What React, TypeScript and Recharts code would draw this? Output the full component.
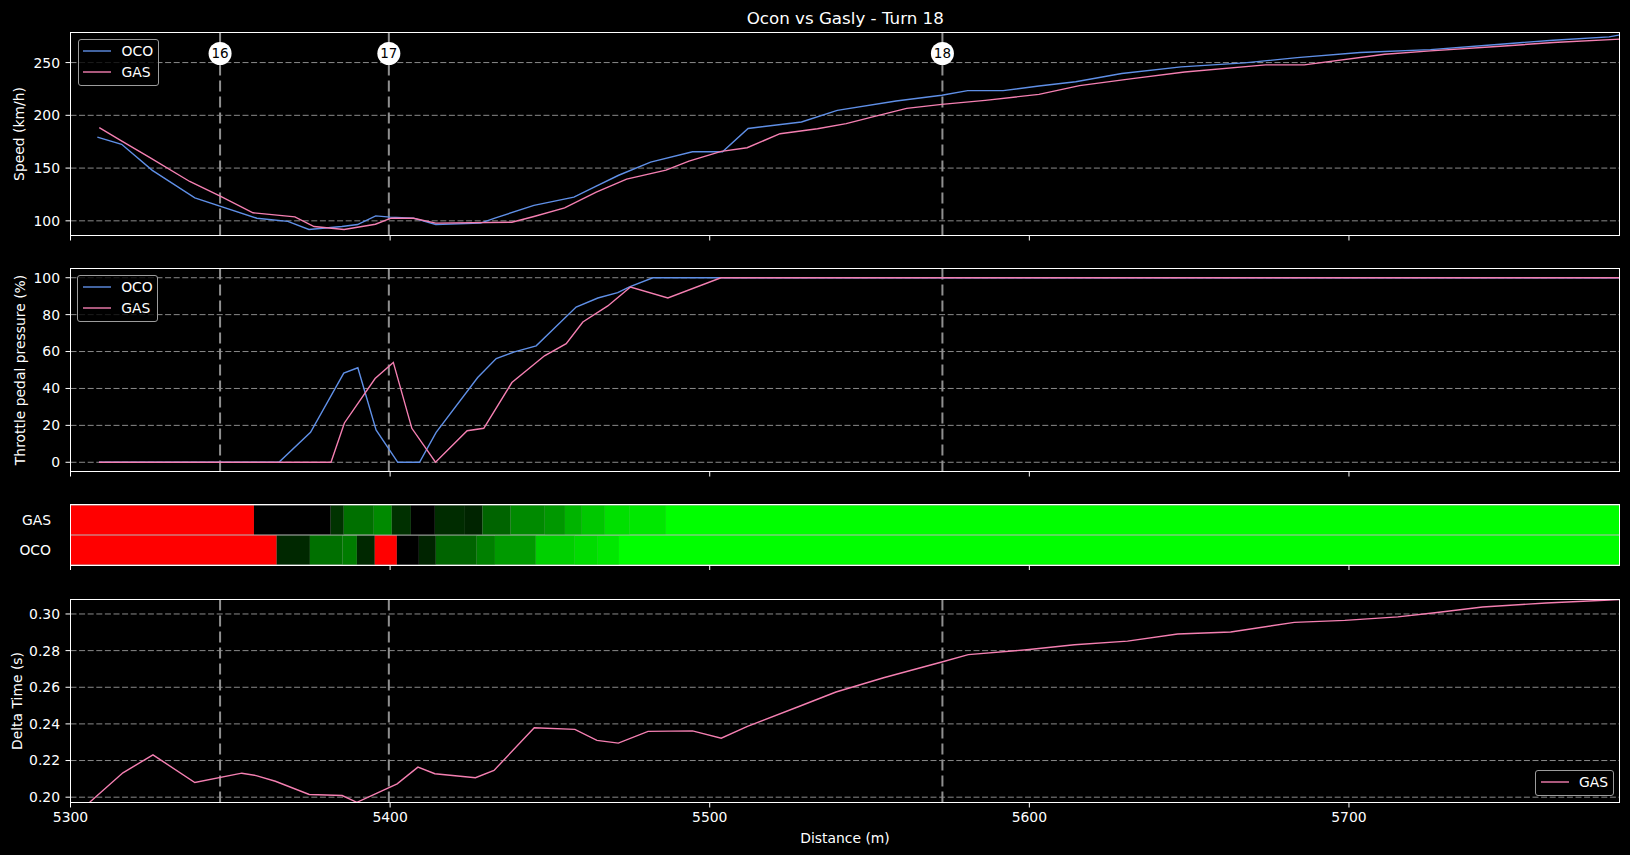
import React from "react";
import {
  LineChart,
  Line,
  BarChart,
  Bar,
  Cell,
  XAxis,
  YAxis,
  CartesianGrid,
  ReferenceLine,
  ReferenceDot,
  Legend,
} from "recharts";

const FONT = '"DejaVu Sans", sans-serif';
const OCO_COLOR = "#5f8fe6";
const GAS_COLOR = "#f47fb1";
const GRID = "#8a8a8a";
const TURN_LINE = "#8f8f8f";

// shared distance axis
const xDomain = [5300, 5784.8];
const xTicks = [5300, 5400, 5500, 5600, 5700];

// corner markers
const turnLabels = ["16", "17", "18"];
const turnDistances = [5346.8, 5399.6, 5572.8];
const turnLabelSpeed = 258.6;

// speed (km/h)
const ocoSpeedDistance = [
  5308.4, 5316.0, 5325.6, 5338.9, 5358.3, 5368.0, 5374.6, 5384.9, 5389.8, 5395.5,
  5400.0, 5407.3, 5414.3, 5428.3, 5433.0, 5445.0, 5457.5, 5464.5, 5471.5, 5481.5,
  5494.6, 5504.0, 5512.0, 5528.7, 5539.9, 5558.3, 5572.6, 5580.7, 5591.8, 5603.0,
  5614.5, 5628.9, 5647.5, 5667.3, 5683.8, 5703.5, 5725.5, 5747.4, 5763.9, 5781.4,
  5784.8,
];
const ocoSpeed = [
  179.4, 172.5, 147.8, 121.8, 102.5, 99.5, 91.8, 94.6, 96.5, 104.7,
  103.5, 102.5, 96.5, 97.8, 102.8, 114.6, 122.5, 132.9, 143.2, 155.7,
  165.5, 165.5, 187.5, 193.7, 204.7, 213.6, 219.0, 223.4, 223.4, 227.8,
  231.8, 239.6, 245.9, 249.7, 254.7, 259.5, 262.3, 267.4, 271.2, 274.4,
  276.3,
];
const gasSpeedDistance = [
  5309.0, 5316.2, 5324.6, 5337.3, 5347.0, 5357.1, 5370.2, 5376.2, 5385.6, 5395.4,
  5400.3, 5407.3, 5414.3, 5438.1, 5445.0, 5454.6, 5464.5, 5474.0, 5486.3, 5493.5,
  5503.6, 5511.7, 5522.0, 5533.7, 5542.7, 5551.6, 5561.6, 5572.6, 5586.2, 5603.0,
  5615.7, 5632.2, 5648.6, 5673.9, 5686.0, 5711.2, 5725.5, 5747.4, 5763.9, 5784.8,
];
const gasSpeed = [
  188.3, 175.3, 160.4, 137.3, 123.1, 107.6, 103.8, 94.6, 91.8, 96.8,
  102.5, 102.5, 97.8, 98.7, 104.1, 112.3, 127.2, 139.6, 148.1, 156.6,
  165.8, 169.3, 182.6, 187.3, 192.1, 199.0, 206.6, 210.4, 214.2, 219.9,
  228.2, 234.8, 241.1, 247.8, 247.8, 257.9, 261.1, 265.5, 269.0, 272.2,
];

// throttle (%)
const ocoThrottleDistance = [
  5308.9, 5365.2, 5375.1, 5385.5, 5389.9, 5395.6, 5402.4, 5409.2, 5414.4, 5427.4,
  5433.2, 5438.9, 5445.7, 5458.2, 5465.0, 5471.2, 5474.9, 5482.2, 5784.8,
];
const ocoThrottle = [
  0, 0, 16.2, 48.3, 51.2, 17.5, 0, 0, 16.2, 45.9,
  56.2, 59.8, 63.1, 84.1, 89.0, 91.9, 95.0, 100, 100,
];
const gasThrottleDistance = [
  5308.9, 5381.5, 5385.7, 5395.3, 5401.0, 5406.8, 5414.2, 5424.1, 5429.3, 5438.1,
  5448.3, 5455.1, 5460.3, 5468.1, 5475.2, 5486.9, 5503.5, 5784.8,
];
const gasThrottle = [
  0, 0, 21.3, 45.4, 54.1, 18.4, 0, 17.1, 18.4, 43.2,
  57.7, 64.3, 76.0, 84.7, 95.0, 89.0, 100, 100,
];

// throttle colour bands
const driverLabels = ["GAS", "OCO"];
const gasSegmentEnds = [
  5357.4, 5381.4, 5385.5, 5394.9, 5400.5, 5406.5, 5414.0, 5423.4, 5428.9,
  5437.7, 5448.4, 5454.7, 5460.0, 5467.2, 5475.0, 5486.3, 5784.8,
];
const gasSegmentColors = [
  "#ff0000", "#000000", "#003300", "#007000", "#008a00", "#003000", "#000000", "#002c00", "#002400",
  "#006400", "#008a00", "#009800", "#00b400", "#00c800", "#00e000", "#00e800", "#00ff00",
];
const ocoSegmentEnds = [
  5364.5, 5374.9, 5385.1, 5389.6, 5395.2, 5402.1, 5409.0, 5414.3, 5427.1,
  5432.8, 5445.6, 5457.8, 5465.0, 5471.6, 5784.8,
];
const ocoSegmentColors = [
  "#ff0000", "#002800", "#007000", "#007c00", "#002800", "#ff0000", "#000000", "#002400", "#006400",
  "#008000", "#009a00", "#00d000", "#00dc00", "#00e800", "#00ff00",
];

// delta time (s)
const deltaDistance = [
  5306.0, 5316.4, 5325.8, 5338.9, 5353.6, 5358.1, 5364.1, 5374.7, 5385.0, 5389.6,
  5402.2, 5408.7, 5414.0, 5426.7, 5432.5, 5445.1, 5457.8, 5464.7, 5471.4, 5480.7,
  5494.6, 5503.6, 5511.8, 5527.9, 5539.5, 5554.4, 5572.6, 5580.9, 5599.2, 5614.1,
  5630.7, 5646.4, 5663.0, 5682.9, 5698.7, 5715.3, 5726.9, 5741.8, 5761.7, 5784.8,
];
const gasDelta = [
  0.1972, 0.2133, 0.2231, 0.208, 0.2131, 0.2118, 0.2087, 0.2015, 0.2009, 0.1972,
  0.2073, 0.2164, 0.2128, 0.2106, 0.2146, 0.2379, 0.237, 0.231, 0.2295, 0.2359,
  0.2362, 0.2322, 0.2386, 0.2495, 0.2574, 0.2652, 0.2738, 0.2778, 0.2805, 0.2832,
  0.2852, 0.2891, 0.2902, 0.2954, 0.2965, 0.2984, 0.3007, 0.3038, 0.306, 0.3079,
];

const speedTicks = [100, 150, 200, 250];
const throttleTicks = [0, 20, 40, 60, 80, 100];
const deltaTicks = [0.2, 0.22, 0.24, 0.26, 0.28, 0.3];

const bothDrivers = [
  { name: "OCO", color: OCO_COLOR },
  { name: "GAS", color: GAS_COLOR },
];
const gasOnly = [{ name: "GAS", color: GAS_COLOR }];

const toPoints = (xs: number[], ys: number[]) => xs.map((d, i) => ({ d, v: ys[i] }));

// segment widths stacked from zero; the axis clips everything left of 5300
const segmentRow = (driver: string, ends: number[]) => {
  const row: Record<string, any> = { driver };
  ends.forEach((e, i) => {
    row[`s${i}`] = i === 0 ? e : e - ends[i - 1];
  });
  return row;
};
const bandData = [segmentRow("GAS", gasSegmentEnds), segmentRow("OCO", ocoSegmentEnds)];
const bandColors = [gasSegmentColors, ocoSegmentColors];
const segmentCount = Math.max(gasSegmentEnds.length, ocoSegmentEnds.length);

const W = 1630;
const AXIS_W = 55.5;
const MARGIN_LEFT = 15; // plot starts at x = 70.5
const MARGIN_RIGHT = 10;

const tickStyle = { fill: "#fff", fontSize: 13.9, fontFamily: FONT };

function VTitle({ px, py, text }: { px: number; py: number; text: string }) {
  return (
    <text
      x={px}
      y={py}
      transform={`rotate(-90 ${px} ${py})`}
      textAnchor="middle"
      dominantBaseline="central"
      fill="#fff"
      fontSize={13.9}
      fontFamily={FONT}
    >
      {text}
    </text>
  );
}

function HTitle({ px, py, text }: { px: number; py: number; text: string }) {
  return (
    <text x={px} y={py} textAnchor="middle" fill="#fff" fontSize={13.9} fontFamily={FONT}>
      {text}
    </text>
  );
}

function LegendBox({ items, width, height }: { items: { name: string; color: string }[]; width: number; height: number }) {
  return (
    <div
      style={{
        width,
        height,
        boxSizing: "border-box",
        border: "1px solid #9c9c9c",
        borderRadius: 3,
        background: "rgba(0,0,0,0.8)",
        paddingTop: 0.5,
      }}
    >
      {items.map((p) => (
        <div key={p.name} style={{ display: "flex", alignItems: "center", height: 21.3 }}>
          <svg width={28} height={6} style={{ marginLeft: 4.5, marginRight: 10.5, display: "block" }}>
            <line x1={0} y1={3} x2={28} y2={3} stroke={p.color} strokeWidth={1.4} />
          </svg>
          <span style={{ color: "#fff", fontSize: 13.9, fontFamily: FONT, lineHeight: "16px" }}>
            {p.name}
          </span>
        </div>
      ))}
    </div>
  );
}

function Frame({ top, height }: { top: number; height: number }) {
  return (
    <div
      style={{
        position: "absolute",
        left: 70,
        top,
        width: 1550,
        height,
        boxSizing: "border-box",
        border: "1px solid #fff",
        pointerEvents: "none",
      }}
    />
  );
}

function DistanceAxis({ height, labels, title }: { height: number; labels: boolean; title?: React.ReactElement }) {
  return (
    <XAxis
      dataKey="d"
      type="number"
      domain={xDomain}
      allowDataOverflow
      ticks={xTicks}
      height={height}
      axisLine={false}
      tickLine={{ stroke: "#fff" }}
      tickSize={5}
      tickMargin={5}
      tick={tickStyle}
      tickFormatter={(v: number) => (labels ? String(v) : "")}
      label={title}
    />
  );
}

function TurnLines() {
  return (
    <>
      {turnDistances.map((d) => (
        <ReferenceLine key={d} x={d} stroke={TURN_LINE} strokeWidth={2} strokeDasharray="11 5" />
      ))}
    </>
  );
}

export default function App() {
  const ocoSpeedData = toPoints(ocoSpeedDistance, ocoSpeed);
  const gasSpeedData = toPoints(gasSpeedDistance, gasSpeed);
  const ocoThrottleData = toPoints(ocoThrottleDistance, ocoThrottle);
  const gasThrottleData = toPoints(gasThrottleDistance, gasThrottle);
  const deltaData = toPoints(deltaDistance, gasDelta);

  return (
    <div
      style={{
        position: "absolute",
        left: 0,
        top: 0,
        width: W,
        height: 855,
        background: "#000",
        overflow: "hidden",
        fontFamily: FONT,
      }}
    >
      <div
        style={{
          position: "absolute",
          left: 70.5,
          top: 7.5,
          width: 1549.5,
          textAlign: "center",
          color: "#fff",
          fontSize: 16.7,
          lineHeight: "20px",
        }}
      >
        Ocon vs Gasly - Turn 18
      </div>

      {/* speed */}
      <div style={{ position: "absolute", left: 0, top: 0 }}>
        <LineChart width={W} height={250} margin={{ top: 32.5, right: MARGIN_RIGHT, bottom: 0, left: MARGIN_LEFT }}>
          <CartesianGrid vertical={false} stroke={GRID} strokeDasharray="6 2.6" />
          <DistanceAxis height={14.5} labels={false} />
          <YAxis
            type="number"
            domain={[86.1, 278.5]}
            allowDataOverflow
            ticks={speedTicks}
            width={AXIS_W}
            axisLine={false}
            tickLine={{ stroke: "#fff" }}
            tickSize={5}
            tickMargin={5.5}
            tick={tickStyle}
            label={<VTitle px={19.3} py={134} text="Speed (km/h)" />}
          />
          <TurnLines />
          <Line data={ocoSpeedData} dataKey="v" name="OCO" stroke={OCO_COLOR} strokeWidth={1.4} dot={false} isAnimationActive={false} />
          <Line data={gasSpeedData} dataKey="v" name="GAS" stroke={GAS_COLOR} strokeWidth={1.4} dot={false} isAnimationActive={false} />
          {turnDistances.map((d, i) => (
            <ReferenceDot
              key={d}
              x={d}
              y={turnLabelSpeed}
              r={11.5}
              fill="#fff"
              stroke="none"
              label={{ value: turnLabels[i], position: "center", fill: "#000", fontSize: 13.5, fontFamily: FONT }}
            />
          ))}
          <Legend
            layout="vertical"
            align="center"
            verticalAlign="middle"
            wrapperStyle={{ left: 77.5, top: 39 }}
            content={() => <LegendBox items={bothDrivers} width={81} height={47} />}
          />
        </LineChart>
      </div>

      {/* throttle */}
      <div style={{ position: "absolute", left: 0, top: 250 }}>
        <LineChart width={W} height={240} margin={{ top: 18.5, right: MARGIN_RIGHT, bottom: 0, left: MARGIN_LEFT }}>
          <CartesianGrid vertical={false} stroke={GRID} strokeDasharray="6 2.6" />
          <DistanceAxis height={18.5} labels={false} />
          <YAxis
            type="number"
            domain={[-5, 105]}
            allowDataOverflow
            ticks={throttleTicks}
            width={AXIS_W}
            axisLine={false}
            tickLine={{ stroke: "#fff" }}
            tickSize={5}
            tickMargin={5.5}
            tick={tickStyle}
            label={<VTitle px={20} py={120} text="Throttle pedal pressure (%)" />}
          />
          <TurnLines />
          <Line data={ocoThrottleData} dataKey="v" name="OCO" stroke={OCO_COLOR} strokeWidth={1.4} dot={false} isAnimationActive={false} />
          <Line data={gasThrottleData} dataKey="v" name="GAS" stroke={GAS_COLOR} strokeWidth={1.4} dot={false} isAnimationActive={false} />
          <Legend
            layout="vertical"
            align="center"
            verticalAlign="middle"
            wrapperStyle={{ left: 77.2, top: 25 }}
            content={() => <LegendBox items={bothDrivers} width={81} height={47} />}
          />
        </LineChart>
      </div>

      {/* throttle bands */}
      <div style={{ position: "absolute", left: 0, top: 490 }}>
        <BarChart
          width={W}
          height={95}
          layout="vertical"
          data={bandData}
          barCategoryGap={0.6}
          margin={{ top: 15, right: MARGIN_RIGHT, bottom: 0, left: MARGIN_LEFT }}
        >
          <CartesianGrid horizontal={false} vertical={false} fill="#b8b8b8" />
          <DistanceAxis height={20} labels={false} />
          <YAxis
            type="category"
            dataKey="driver"
            ticks={driverLabels}
            width={AXIS_W}
            axisLine={false}
            tickLine={false}
            tickSize={0}
            tickMargin={19.5}
            tick={tickStyle}
          />
          {Array.from({ length: segmentCount }, (_, i) => (
            <Bar key={i} dataKey={`s${i}`} stackId="band" isAnimationActive={false}>
              {bandData.map((row, r) => (
                <Cell key={row.driver} fill={bandColors[r][i] || "#00ff00"} />
              ))}
            </Bar>
          ))}
        </BarChart>
      </div>

      {/* delta time */}
      <div style={{ position: "absolute", left: 0, top: 585 }}>
        <LineChart width={W} height={270} margin={{ top: 14.5, right: MARGIN_RIGHT, bottom: 0, left: MARGIN_LEFT }}>
          <CartesianGrid vertical={false} stroke={GRID} strokeDasharray="6 2.6" />
          <DistanceAxis height={52.5} labels title={<HTitle px={845} py={258.4} text="Distance (m)" />} />
          <YAxis
            type="number"
            domain={[0.1971, 0.3079]}
            allowDataOverflow
            ticks={deltaTicks}
            width={AXIS_W}
            axisLine={false}
            tickLine={{ stroke: "#fff" }}
            tickSize={5}
            tickMargin={5.5}
            tick={tickStyle}
            tickFormatter={(v: number) => v.toFixed(2)}
            label={<VTitle px={16.5} py={116} text="Delta Time (s)" />}
          />
          <TurnLines />
          <Line data={deltaData} dataKey="v" name="GAS" stroke={GAS_COLOR} strokeWidth={1.4} dot={false} isAnimationActive={false} />
          <Legend
            layout="vertical"
            align="center"
            verticalAlign="middle"
            wrapperStyle={{ left: 1535, top: 185 }}
            content={() => <LegendBox items={gasOnly} width={79} height={26} />}
          />
        </LineChart>
      </div>

      <Frame top={32} height={204} />
      <Frame top={268} height={204} />
      <Frame top={504} height={62} />
      <Frame top={599} height={204} />
    </div>
  );
}
